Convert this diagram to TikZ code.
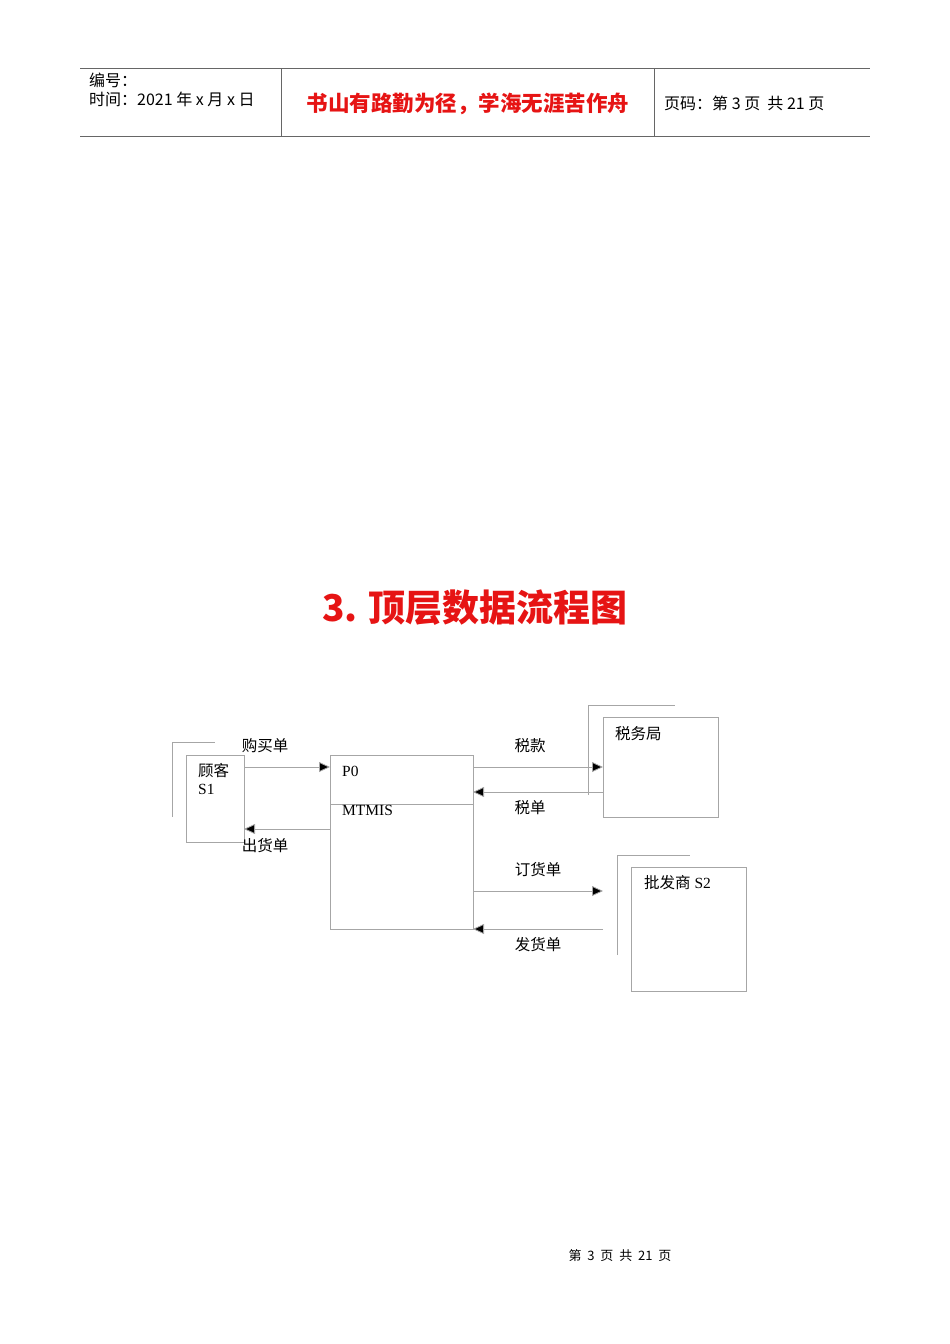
\documentclass[tikz,border=0pt]{standalone}
\usepackage{fontspec}
\setmainfont{Liberation Serif}
\newfontfamily\cjk{Noto Sans CJK SC}
\usetikzlibrary{arrows.meta}
\definecolor{rd}{RGB}{230,20,20}
\begin{document}
\begin{tikzpicture}[x=1pt,y=-1pt,
  ln/.style={draw=gray!70,line width=0.8pt},
  fl/.style={draw=gray!70,line width=0.8pt,-{Triangle[length=11pt,width=10pt,fill=black]}},
  lb/.style={inner sep=0pt,font=\fontsize{15.5}{18}\selectfont},
  hd/.style={inner sep=0pt,font=\cjk\fontsize{16}{18}\selectfont}]
\useasboundingbox (0,0) rectangle (950,1344);
% header
\draw[line width=1pt,gray!80!black] (80,68) -- (870,68) (80,136) -- (870,136) (281,68) -- (281,136) (654,68) -- (654,136);
\node[hd,anchor=west] (h1) at (89,80) {编号：};
\node[hd,anchor=west] (h2) at (89,99) {时间：2021 年 x 月 x 日};
\node[inner sep=0pt,font=\cjk\bfseries\fontsize{21.5}{24}\selectfont,text=rd] (h3) at (468,104) {书山有路勤为径，学海无涯苦作舟};
\node[hd,anchor=west] (h4) at (664,103) {页码：第 3 页 \ 共 21 页};
% title
\node[inner sep=0pt,font=\cjk\bfseries\fontsize{37}{42}\selectfont,text=rd] (t) at (475,608) {3. 顶层数据流程图};
% footer
\node[inner sep=0pt,font=\cjk\fontsize{13}{15}\selectfont] (f) at (620,1256) {第\ \ 3\ \ 页\ \ 共\ \ 21\ \ 页};
% shadows
\draw[ln] (172,817) -- (172,742) -- (215,742);
\draw[ln] (588,795) -- (588,705) -- (675,705);
\draw[ln] (617,955) -- (617,855) -- (690,855);
% boxes
\node[ln,fill=white,minimum width=58pt,minimum height=87pt,inner sep=0pt] (s1) at (215,798.5) {};
\node[ln,minimum width=143pt,minimum height=174pt,inner sep=0pt] (p0) at (401.5,842) {};
\node[ln,fill=white,minimum width=115pt,minimum height=100pt,inner sep=0pt] (tax) at (660.5,767) {};
\node[ln,fill=white,minimum width=115pt,minimum height=124pt,inner sep=0pt] (s2) at (688.5,929) {};
\draw[ln] (330,804) -- (473,804);
% box labels
\node[lb,anchor=west] at (198,771) {\cjk 顾客};
\node[lb,anchor=west] at (198,789) {S1};
\node[lb,anchor=west] at (342,771) {P0};
\node[lb,anchor=west] at (342,810) {MTMIS};
\node[lb,anchor=west] at (615,734) {\cjk 税务局};
\node[lb,anchor=west] at (644,883) {{\cjk 批发商} S2};
% flows
\draw[fl] (244,767) -- (330,767);
\draw[fl] (330,829) -- (244,829);
\draw[fl] (473,767) -- (603,767);
\draw[fl] (603,792) -- (473,792);
\draw[fl] (473,891) -- (603,891);
\draw[fl] (603,929) -- (473,929);
\node[lb] at (265,746) {\cjk 购买单};
\node[lb] at (265,846) {\cjk 出货单};
\node[lb] at (530,746) {\cjk 税款};
\node[lb] at (530,808) {\cjk 税单};
\node[lb] at (538,870) {\cjk 订货单};
\node[lb] at (538,945) {\cjk 发货单};
\end{tikzpicture}
\end{document}
